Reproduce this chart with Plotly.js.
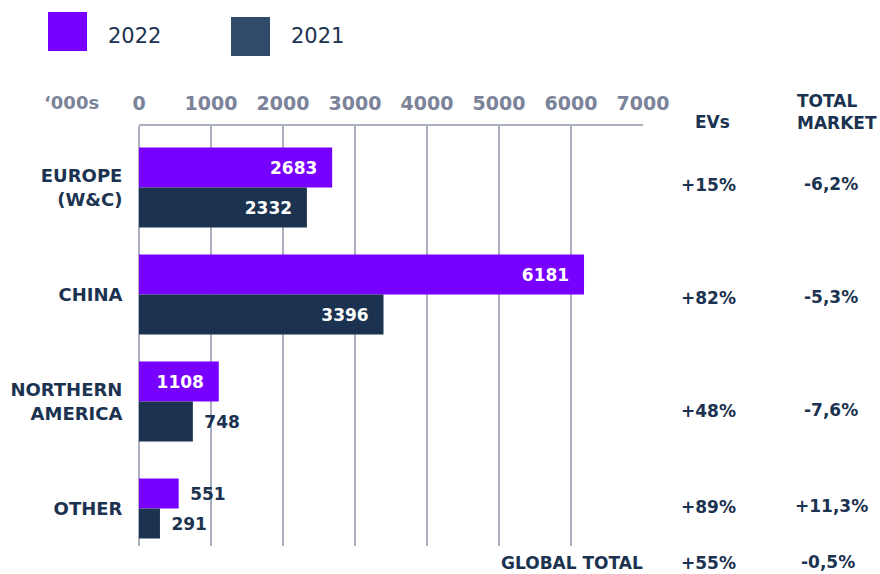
<!DOCTYPE html>
<html>
<head>
<meta charset="utf-8">
<script src="https://cdn.plot.ly/plotly-3.0.1.min.js"></script>
<style>
  html, body { margin: 0; padding: 0; background: #ffffff; }
  #chart { width: 880px; height: 574px; }
</style>
</head>
<body>
<div id="chart"></div>
<script>
// ---- data ----
const categories = ['EUROPE<br>(W&C)', 'CHINA', 'NORTHERN<br>AMERICA', 'OTHER'];
const values2022 = [2683, 6181, 1108, 551];
const values2021 = [2332, 3396, 748, 291];
const evGrowth = ['+15%', '+82%', '+48%', '+89%'];
const marketGrowth = ['-6,2%', '-5,3%', '-7,6%', '+11,3%'];
const globalLabel = 'GLOBAL TOTAL';
const globalEv = '+55%';
const globalMarket = '-0,5%';
const seriesNames = ['2022', '2021'];
const unitLabel = '\u2018000s';
const evHeader = 'EVs';
const marketHeader = 'TOTAL<br>MARKET';

// ---- style ----
const PURPLE = '#7700ff';
const NAVY = '#1b3350';
const NAVY_LEGEND = '#2f4b69';
const GRAY = '#7b8398';
const GRID = '#aab0bf';
const FONT = 'DejaVu Sans, sans-serif';

const W = 880, H = 574;
const M = { l: 139, r: 237, t: 126, b: 28 };
const PW = W - M.l - M.r, PH = H - M.t - M.b;
const px = x => (x - M.l) / PW;
const py = y => (H - M.b - y) / PH;

const barW = [0.374, 0.374, 0.374, 0.28];
const INSIDE_MIN = 1000;
const pos = v => v >= INSIDE_MIN ? 'inside' : 'outside';
const lab = v => v >= INSIDE_MIN ? v + '\u00A0\u00A0' : '\u2002' + v;

const trace2022 = {
  type: 'bar', orientation: 'h', name: seriesNames[0],
  x: values2022, y: categories,
  width: barW, offset: barW.map(w => -w),
  marker: { color: PURPLE, line: { width: 0 } },
  text: values2022.map(lab), textposition: values2022.map(pos),
  insidetextanchor: 'end', textangle: 0, constraintext: 'none', cliponaxis: false,
  insidetextfont: { family: FONT, size: 17, color: '#ffffff', weight: 'bold' },
  outsidetextfont: { family: FONT, size: 17, color: NAVY, weight: 'bold' },
  hoverinfo: 'x+y'
};
const trace2021 = {
  type: 'bar', orientation: 'h', name: seriesNames[1],
  x: values2021, y: categories,
  width: barW, offset: barW.map(() => 0),
  marker: { color: NAVY, line: { width: 0 } },
  text: values2021.map(lab), textposition: values2021.map(pos),
  insidetextanchor: 'end', textangle: 0, constraintext: 'none', cliponaxis: false,
  insidetextfont: { family: FONT, size: 17, color: '#ffffff', weight: 'bold' },
  outsidetextfont: { family: FONT, size: 17, color: NAVY, weight: 'bold' },
  hoverinfo: 'x+y'
};

const boldNavy = size => ({ family: FONT, size: size, color: NAVY, weight: 'bold' });

const rowY = [185, 298, 411, 507];
const annotations = [];
// legend texts
annotations.push({ xref: 'paper', yref: 'paper', x: px(106), y: py(36), xanchor: 'left', yanchor: 'middle',
  text: seriesNames[0], showarrow: false, font: { family: FONT, size: 21, color: NAVY } });
annotations.push({ xref: 'paper', yref: 'paper', x: px(289), y: py(36), xanchor: 'left', yanchor: 'middle',
  text: seriesNames[1], showarrow: false, font: { family: FONT, size: 21, color: NAVY } });
// unit label
annotations.push({ xref: 'paper', yref: 'paper', x: px(101), y: py(103), xanchor: 'right', yanchor: 'middle',
  text: unitLabel, showarrow: false, font: { family: FONT, size: 18, color: GRAY, weight: 'bold' } });
// headers
annotations.push({ xref: 'paper', yref: 'paper', x: px(712), y: py(122), xanchor: 'center', yanchor: 'middle',
  text: evHeader, showarrow: false, font: boldNavy(17) });
annotations.push({ xref: 'paper', yref: 'paper', x: px(795), y: py(112), xanchor: 'left', yanchor: 'middle',
  align: 'left', text: marketHeader, showarrow: false, font: boldNavy(17) });
// per-row values
evGrowth.forEach((t, i) => annotations.push({ xref: 'paper', yref: 'paper', x: px(708), y: py(rowY[i]),
  xanchor: 'center', yanchor: 'middle', text: t, showarrow: false, font: boldNavy(17) }));
marketGrowth.forEach((t, i) => annotations.push({ xref: 'paper', yref: 'paper', x: px(831), y: py(rowY[i] - 1),
  xanchor: 'center', yanchor: 'middle', text: t, showarrow: false, font: boldNavy(17) }));
// global total row
annotations.push({ xref: 'paper', yref: 'paper', x: px(645), y: py(563), xanchor: 'right', yanchor: 'middle',
  text: globalLabel, showarrow: false, font: boldNavy(17) });
annotations.push({ xref: 'paper', yref: 'paper', x: px(708), y: py(563), xanchor: 'center', yanchor: 'middle',
  text: globalEv, showarrow: false, font: boldNavy(17) });
annotations.push({ xref: 'paper', yref: 'paper', x: px(828), y: py(562), xanchor: 'center', yanchor: 'middle',
  text: globalMarket, showarrow: false, font: boldNavy(17) });

const shapes = [
  { type: 'rect', xref: 'paper', yref: 'paper', x0: px(48), x1: px(87), y0: py(51), y1: py(12),
    fillcolor: PURPLE, line: { width: 0 } },
  { type: 'rect', xref: 'paper', yref: 'paper', x0: px(231), x1: px(270), y0: py(56), y1: py(17),
    fillcolor: NAVY_LEGEND, line: { width: 0 } }
];

const layout = {
  width: W, height: H,
  margin: M,
  paper_bgcolor: '#ffffff', plot_bgcolor: '#ffffff',
  barmode: 'overlay',
  showlegend: false,
  font: { family: FONT, color: NAVY },
  xaxis: {
    side: 'top', range: [0, 7000], dtick: 1000, tick0: 0,
    showgrid: true, gridcolor: GRID, gridwidth: 2,
    zeroline: true, zerolinecolor: GRID, zerolinewidth: 2,
    showline: true, linecolor: GRID, linewidth: 2,
    ticks: 'outside', ticklen: 6, tickcolor: 'rgba(0,0,0,0)',
    tickfont: { family: FONT, size: 19, color: GRAY, weight: 'bold' },
    fixedrange: true
  },
  yaxis: {
    type: 'category', range: [3.35, -0.575],
    showgrid: false, zeroline: false, showline: false,
    ticks: 'outside', ticklen: 12, tickcolor: 'rgba(0,0,0,0)',
    tickfont: { family: FONT, size: 18, color: NAVY, weight: 'bold' },
    fixedrange: true
  },
  annotations: annotations,
  shapes: shapes
};

Plotly.newPlot('chart', [trace2022, trace2021], layout, { displayModeBar: false, staticPlot: true });
</script>
</body>
</html>
